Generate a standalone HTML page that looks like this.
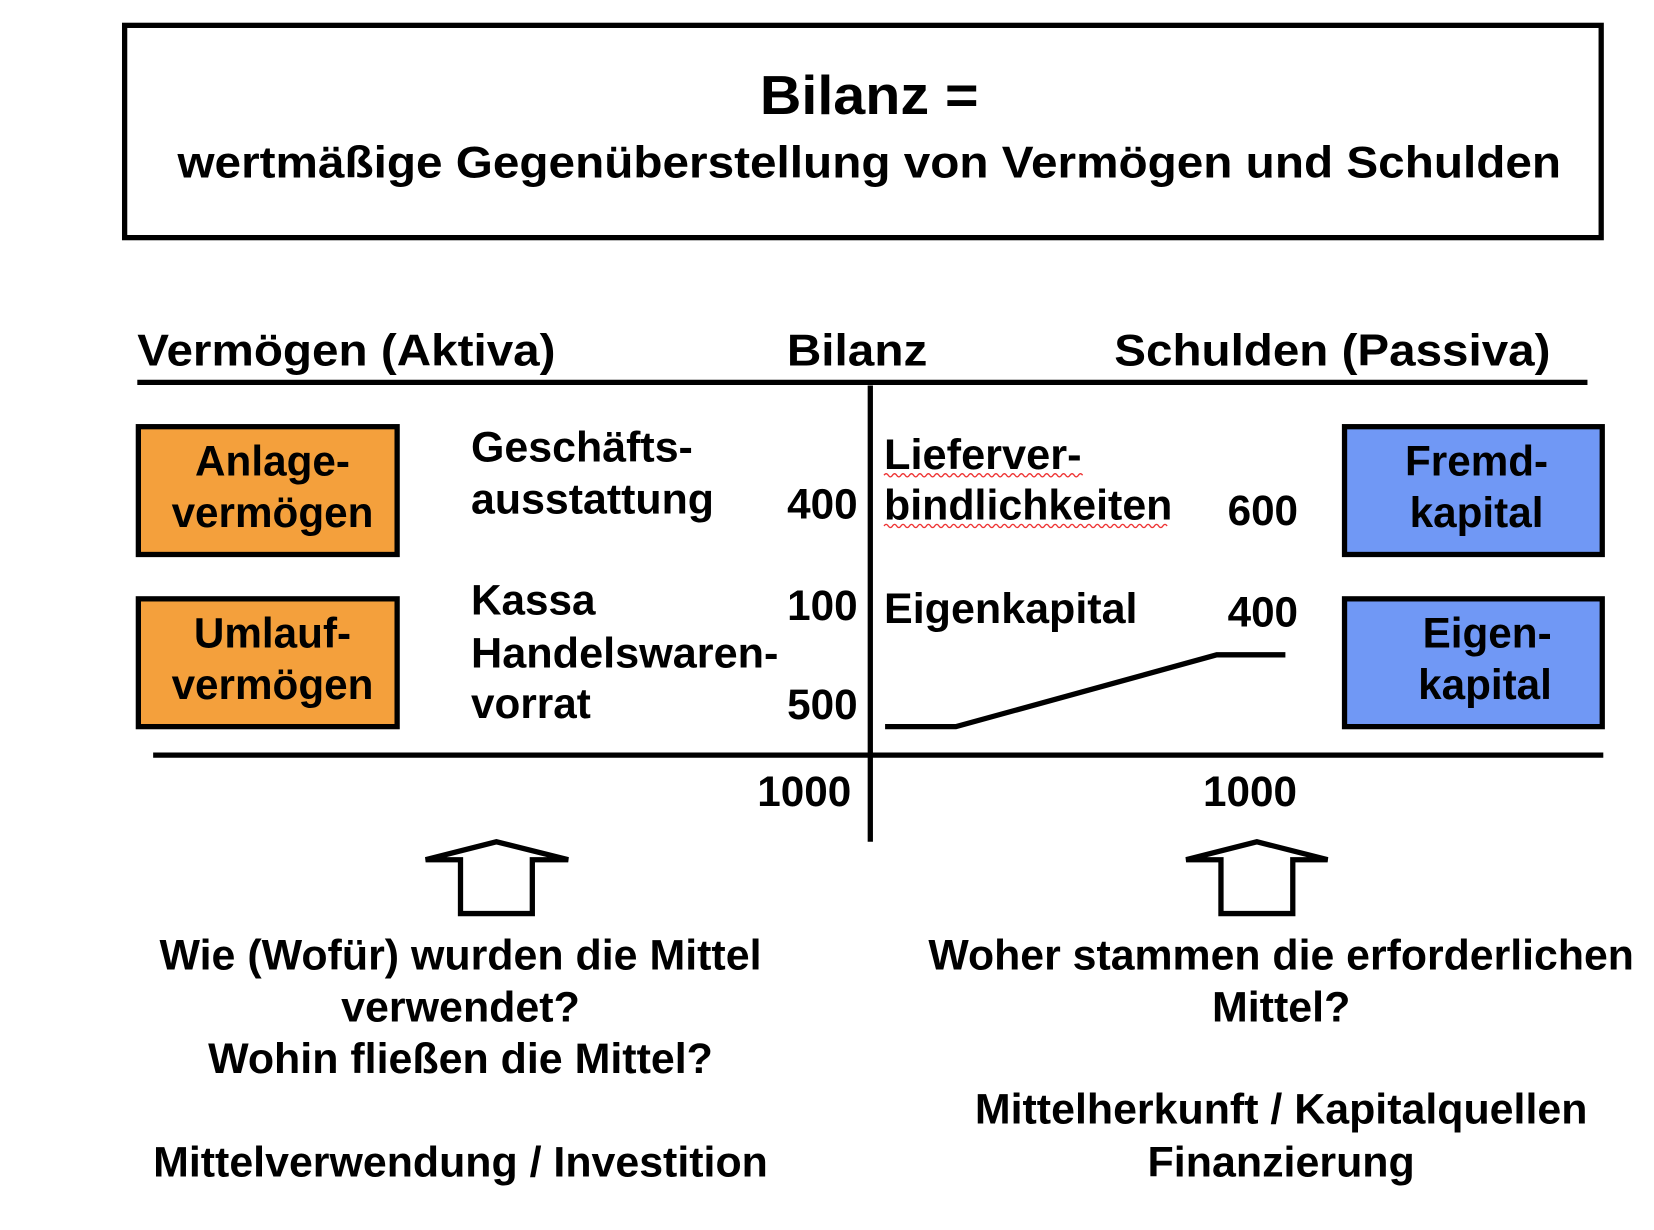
<!DOCTYPE html>
<html><head><meta charset="utf-8"><style>
html,body{margin:0;padding:0;background:#fff;}
svg{display:block;}
text{font-family:"Liberation Sans",Arial,sans-serif;font-weight:bold;fill:#000;}
</style></head><body>
<svg width="1654" height="1230" viewBox="0 0 1566 1164.6" preserveAspectRatio="none" xmlns="http://www.w3.org/2000/svg">
<rect x="118" y="24" width="1398" height="201" fill="none" stroke="#000" stroke-width="5"/>
<text x="823" y="108" font-size="52" text-anchor="middle" textLength="207" lengthAdjust="spacingAndGlyphs">Bilanz =</text>
<text x="823" y="168" font-size="42" text-anchor="middle" textLength="1310" lengthAdjust="spacingAndGlyphs">wertmäßige Gegenüberstellung von Vermögen und Schulden</text>

<text x="130" y="346" font-size="42" textLength="396" lengthAdjust="spacingAndGlyphs">Vermögen (Aktiva)</text>
<text x="745" y="346" font-size="42" textLength="133" lengthAdjust="spacingAndGlyphs">Bilanz</text>
<text x="1055" y="346" font-size="42" textLength="413" lengthAdjust="spacingAndGlyphs">Schulden (Passiva)</text>

<line x1="130" y1="362" x2="1503" y2="362" stroke="#000" stroke-width="5"/>
<line x1="824" y1="365" x2="824" y2="797" stroke="#000" stroke-width="5"/>
<line x1="145" y1="715" x2="1518" y2="715" stroke="#000" stroke-width="5"/>

<rect x="131" y="404" width="245" height="121" fill="#F4A03C" stroke="#000" stroke-width="5"/>
<rect x="131" y="567" width="245" height="121" fill="#F4A03C" stroke="#000" stroke-width="5"/>
<rect x="1273" y="404" width="244" height="121" fill="#7098F5" stroke="#000" stroke-width="5"/>
<rect x="1273" y="567" width="244" height="121" fill="#7098F5" stroke="#000" stroke-width="5"/>

<g font-size="40" text-anchor="middle">
<text x="258" y="450">Anlage-</text>
<text x="258" y="499">vermögen</text>
<text x="258" y="613">Umlauf-</text>
<text x="258" y="662">vermögen</text>
<text x="1398" y="450">Fremd-</text>
<text x="1398" y="499">kapital</text>
<text x="1408" y="613">Eigen-</text>
<text x="1406" y="662">kapital</text>
</g>

<g font-size="40">
<text x="446" y="437" textLength="210" lengthAdjust="spacingAndGlyphs">Geschäfts-</text>
<text x="446" y="486" textLength="230" lengthAdjust="spacingAndGlyphs">ausstattung</text>
<text x="446" y="582">Kassa</text>
<text x="446" y="632" textLength="291" lengthAdjust="spacingAndGlyphs">Handelswaren-</text>
<text x="446" y="680">vorrat</text>
<text x="837" y="444" textLength="187" lengthAdjust="spacingAndGlyphs">Lieferver-</text>
<text x="837" y="492" textLength="273" lengthAdjust="spacingAndGlyphs">bindlichkeiten</text>
<text x="837" y="590" textLength="240" lengthAdjust="spacingAndGlyphs">Eigenkapital</text>
</g>
<g font-size="40" text-anchor="end">
<text x="812" y="491">400</text>
<text x="812" y="587">100</text>
<text x="812" y="681">500</text>
<text x="806" y="763">1000</text>
<text x="1229" y="497">600</text>
<text x="1229" y="593">400</text>
<text x="1228" y="763">1000</text>
</g>
<path d="M837,450 q2,-3 4,0 t4,0 t4,0 t4,0 t4,0 t4,0 t4,0 t4,0 t4,0 t4,0 t4,0 t4,0 t4,0 t4,0 t4,0 t4,0 t4,0 t4,0 t4,0 t4,0 t4,0 t4,0 t4,0 t4,0 t4,0 t4,0 t4,0 t4,0 t4,0 t4,0 t4,0 t4,0 t4,0 t4,0 t4,0 t4,0 t4,0 t4,0 t4,0 t4,0 t4,0 t4,0 t4,0 t4,0 t4,0 t4,0 t4,0" fill="none" stroke="#e33" stroke-width="1.2"/>
<path d="M837,498 q2,-3 4,0 t4,0 t4,0 t4,0 t4,0 t4,0 t4,0 t4,0 t4,0 t4,0 t4,0 t4,0 t4,0 t4,0 t4,0 t4,0 t4,0 t4,0 t4,0 t4,0 t4,0 t4,0 t4,0 t4,0 t4,0 t4,0 t4,0 t4,0 t4,0 t4,0 t4,0 t4,0 t4,0 t4,0 t4,0 t4,0 t4,0 t4,0 t4,0 t4,0 t4,0 t4,0 t4,0 t4,0 t4,0 t4,0 t4,0 t4,0 t4,0 t4,0 t4,0 t4,0 t4,0 t4,0 t4,0 t4,0 t4,0 t4,0 t4,0 t4,0 t4,0 t4,0 t4,0 t4,0 t4,0 t4,0 t4,0" fill="none" stroke="#e33" stroke-width="1.2"/>

<polyline points="838,688 905,688 1152,620 1217,620" fill="none" stroke="#000" stroke-width="5"/>

<polygon points="436,814 403,814 470,797 538,814 504,814 504,865 436,865" fill="#fff" stroke="#000" stroke-width="5" stroke-linejoin="miter"/>
<polygon points="1156,814 1123,814 1190,797 1257,814 1224,814 1224,865 1156,865" fill="#fff" stroke="#000" stroke-width="5" stroke-linejoin="miter"/>

<g font-size="40" text-anchor="middle">
<text x="436" y="918" textLength="570" lengthAdjust="spacingAndGlyphs">Wie (Wofür) wurden die Mittel</text>
<text x="436" y="967" textLength="226" lengthAdjust="spacingAndGlyphs">verwendet?</text>
<text x="436" y="1016" textLength="478" lengthAdjust="spacingAndGlyphs">Wohin fließen die Mittel?</text>
<text x="436" y="1114" textLength="582" lengthAdjust="spacingAndGlyphs">Mittelverwendung / Investition</text>
<text x="1213" y="918" textLength="668" lengthAdjust="spacingAndGlyphs">Woher stammen die erforderlichen</text>
<text x="1213" y="967" textLength="131" lengthAdjust="spacingAndGlyphs">Mittel?</text>
<text x="1213" y="1064" textLength="580" lengthAdjust="spacingAndGlyphs">Mittelherkunft / Kapitalquellen</text>
<text x="1213" y="1114" textLength="253" lengthAdjust="spacingAndGlyphs">Finanzierung</text>
</g>
</svg>
</body></html>
